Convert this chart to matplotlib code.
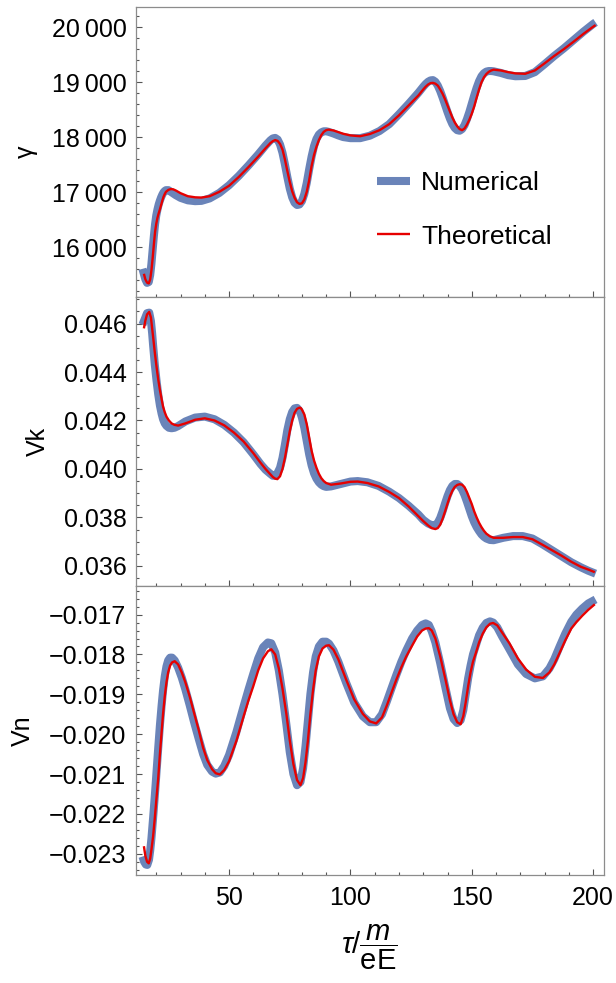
import numpy as np
import matplotlib
matplotlib.use("Agg")
import matplotlib.pyplot as plt
from matplotlib.ticker import MultipleLocator, FixedLocator, FixedFormatter

plt.rcParams['font.family'] = ['Liberation Sans', 'DejaVu Sans']
plt.rcParams['mathtext.fontset'] = 'custom'
plt.rcParams['mathtext.rm'] = 'Liberation Sans'
plt.rcParams['mathtext.it'] = 'Liberation Sans:italic'

# ---- data ----
# gamma (top panel)
t_gam_th = [14.9, 15.5, 16.2, 16.9, 17.5, 18, 18.5, 19, 19.5, 20, 20.5, 21, 21.5, 22, 22.5, 23, 23.5, 24, 25, 26,
            27, 28, 30, 33, 36, 38.6, 42, 46, 50, 54, 58, 62, 65, 67, 68, 69, 70, 71, 72, 73,
            74, 75, 76, 77, 78, 79, 80, 81, 82, 83, 84, 85, 86, 87, 88, 89, 90, 91, 93, 95,
            97, 100, 104, 108, 112, 116, 120, 124, 128, 130, 131, 132, 133, 134, 135, 136, 137, 138, 139, 140,
            141, 142, 143, 144, 145, 146, 147, 148, 149, 150, 151, 152, 153, 154, 155, 156, 157, 158, 159, 162,
            165, 168, 172, 176, 180, 184, 188, 192, 196, 200, 201]
gam_th = [15520, 15420, 15360, 15345, 15420, 15580, 15800, 16050, 16280, 16430, 16540, 16620, 16690, 16770, 16850, 16920, 16970, 17010, 17045, 17060,
          17055, 17035, 16985, 16930, 16910, 16905, 16930, 17010, 17120, 17280, 17460, 17650, 17800, 17895, 17930, 17950, 17935, 17880, 17780, 17600,
          17390, 17190, 17020, 16900, 16820, 16790, 16800, 16870, 17010, 17220, 17480, 17680, 17830, 17950, 18040, 18100, 18130, 18140, 18125, 18095,
          18065, 18035, 18020, 18060, 18130, 18240, 18400, 18580, 18760, 18870, 18920, 18960, 18985, 18990, 18975, 18940, 18870, 18790, 18690, 18580,
          18470, 18360, 18270, 18200, 18150, 18130, 18160, 18230, 18320, 18430, 18560, 18720, 18870, 19000, 19090, 19150, 19190, 19215, 19230, 19215,
          19185, 19162, 19155, 19215, 19345, 19480, 19605, 19740, 19880, 20010, 20040]
t_gam_num = [14.3, 15.5, 16.2, 16.9, 17.5, 18, 18.5, 19, 19.5, 20, 20.5, 21, 21.5, 22, 22.5, 23, 23.5, 24, 25, 26,
             27, 28, 30, 33, 36, 38.6, 42, 46, 50, 54, 58, 62, 65, 67, 68, 69, 70, 71, 72, 73,
             74, 75, 76, 77, 78, 79, 80, 81, 82, 83, 84, 85, 86, 87, 88, 89, 90, 91, 93, 95,
             97, 100, 104, 108, 112, 116, 120, 124, 128, 130, 131, 132, 133, 134, 135, 136, 137, 138, 139, 140,
             141, 142, 143, 144, 145, 146, 147, 148, 149, 150, 151, 152, 153, 154, 155, 156, 157, 158, 159, 162,
             165, 168, 172, 176, 180, 184, 188, 192, 196, 200, 201]
gam_num = [15610, 15420, 15355, 15370, 15500, 15700, 15950, 16200, 16420, 16580, 16690, 16780, 16850, 16910, 16960, 17000, 17025, 17040, 17040, 17010,
           16980, 16950, 16900, 16855, 16840, 16845, 16890, 16990, 17130, 17300, 17490, 17690, 17850, 17945, 17980, 17990, 17960, 17870, 17720, 17510,
           17280, 17070, 16910, 16810, 16770, 16780, 16840, 16970, 17170, 17420, 17650, 17840, 17970, 18050, 18090, 18110, 18110, 18100, 18070, 18035,
           18005, 17985, 17985, 18030, 18115, 18240, 18420, 18610, 18810, 18920, 18970, 19010, 19035, 19040, 19010, 18940, 18840, 18720, 18590, 18460,
           18340, 18240, 18170, 18130, 18120, 18150, 18220, 18330, 18460, 18610, 18760, 18900, 19020, 19110, 19165, 19195, 19205, 19205, 19200, 19170,
           19130, 19110, 19115, 19185, 19330, 19480, 19620, 19770, 19920, 20060, 20090]

# Vk (middle panel)
t_vk_th = [14.9, 15.5, 16.2, 17.1, 17.8, 18.3, 18.7, 19.4, 20.1, 20.8, 21.5, 22.2, 22.8, 23.5, 24.2, 25.2, 26.3, 27.5, 29, 32,
           36, 40, 44, 48, 52, 56, 60, 63, 65, 67, 68, 69, 69.9, 71, 72, 73, 74, 75, 76, 77,
           78, 79, 79.5, 80, 81, 82, 83, 84, 85, 86, 87, 88, 89, 90, 92, 96, 100, 103, 107, 111.6,
           116, 120, 124, 128, 130, 132, 133.5, 135, 136, 137, 138, 139, 140, 141, 142, 143, 144, 145, 146, 147,
           148, 149, 150, 151, 152, 153, 154, 155, 156, 157.5, 159, 163, 167, 171, 175, 179, 183, 187, 191, 195,
           198, 200.7]
vk_th = [0.04580, 0.04612, 0.04638, 0.04648, 0.04625, 0.04580, 0.04545, 0.04480, 0.04422, 0.04370, 0.04326, 0.04288, 0.04257, 0.04234, 0.04216, 0.04200, 0.04188, 0.04182, 0.04179, 0.04188,
         0.04203, 0.04209, 0.04200, 0.04180, 0.04150, 0.04113, 0.04065, 0.04025, 0.04000, 0.03978, 0.03967, 0.03960, 0.03958, 0.03970, 0.04000, 0.04045, 0.04100, 0.04155, 0.04200, 0.04232,
         0.04248, 0.04253, 0.04252, 0.04245, 0.04225, 0.04185, 0.04130, 0.04075, 0.04035, 0.04005, 0.03980, 0.03962, 0.03950, 0.03942, 0.03935, 0.03940, 0.03947, 0.03948, 0.03942, 0.03928,
         0.03905, 0.03880, 0.03845, 0.03805, 0.03785, 0.03767, 0.03756, 0.03752, 0.03756, 0.03770, 0.03795, 0.03825, 0.03857, 0.03887, 0.03910, 0.03926, 0.03934, 0.03937, 0.03935, 0.03925,
         0.03905, 0.03880, 0.03855, 0.03825, 0.03800, 0.03778, 0.03760, 0.03745, 0.03733, 0.03722, 0.03716, 0.03716, 0.03719, 0.03719, 0.03710, 0.03688, 0.03665, 0.03642, 0.03617, 0.03596,
         0.03585, 0.03574]
t_vk_num = [14.3, 15.5, 16.2, 17.1, 17.8, 18.3, 18.7, 19.4, 20.1, 20.8, 21.5, 22.2, 22.8, 23.5, 24.2, 25.2, 26.3, 27.5, 29, 32,
            36, 40, 44, 48, 52, 56, 60, 63, 65, 67, 68, 69, 69.9, 71, 72, 73, 74, 75, 76, 77,
            78, 79, 79.5, 80, 81, 82, 83, 84, 85, 86, 87, 88, 89, 90, 92, 96, 100, 103, 107, 111.6,
            116, 120, 124, 128, 130, 132, 133.5, 135, 136, 137, 138, 139, 140, 141, 142, 143, 144, 145, 146, 147,
            148, 149, 150, 151, 152, 153, 154, 155, 156, 157.5, 159, 163, 167, 171, 175, 179, 183, 187, 191, 195,
            198, 201]
vk_num = [0.04595, 0.04625, 0.04643, 0.04645, 0.04610, 0.04560, 0.04510, 0.04430, 0.04365, 0.04308, 0.04262, 0.04228, 0.04205, 0.04188, 0.04178, 0.04170, 0.04168, 0.04170, 0.04177, 0.04196,
          0.04212, 0.04216, 0.04205, 0.04182, 0.04150, 0.04110, 0.04060, 0.04020, 0.03997, 0.03980, 0.03972, 0.03972, 0.03982, 0.04005, 0.04045, 0.04100, 0.04160, 0.04205, 0.04235, 0.04250,
          0.04252, 0.04240, 0.04228, 0.04212, 0.04170, 0.04115, 0.04060, 0.04015, 0.03982, 0.03960, 0.03945, 0.03935, 0.03929, 0.03926, 0.03928, 0.03938, 0.03948, 0.03950, 0.03945, 0.03930,
          0.03906, 0.03880, 0.03848, 0.03812, 0.03790, 0.03775, 0.03768, 0.03768, 0.03778, 0.03798, 0.03826, 0.03858, 0.03888, 0.03913, 0.03930, 0.03938, 0.03938, 0.03930, 0.03915, 0.03893,
          0.03865, 0.03835, 0.03805, 0.03780, 0.03760, 0.03744, 0.03730, 0.03720, 0.03713, 0.03707, 0.03706, 0.03716, 0.03723, 0.03723, 0.03713, 0.03690, 0.03665, 0.03640, 0.03615, 0.03594,
          0.03580, 0.03568]

# Vn (bottom panel)
t_vn_th = [14.9, 15.5, 16.2, 16.9, 17.5, 18, 18.7, 19.4, 20.1, 20.8, 21.5, 22.2, 22.8, 23.5, 24.2, 24.9, 25.7, 26.5, 27.6, 29,
           30.5, 32, 33.8, 35.5, 37.5, 39.3, 41, 43, 44.5, 46.2, 48, 50, 53, 56, 58, 59.9, 62, 64, 66, 67.4,
           69, 70.5, 72, 73.6, 75, 76.5, 78, 79.4, 80.5, 81.5, 82.5, 83.5, 84.6, 85.7, 87, 88.5, 90, 91.2, 93, 95,
           98.3, 101.5, 105.1, 108, 110.6, 113, 115, 117.1, 119, 121, 123, 125.4, 127.5, 129.5, 131, 132.3, 133.5, 135, 137, 139.2,
           141, 142.5, 144, 145.4, 146.5, 147.5, 148.5, 149.5, 150.5, 151.7, 153, 154.5, 156, 157.5, 158.8, 160.5, 162.5, 165.5, 169, 172.4,
           176, 179.3, 182, 184, 186.2, 188.5, 191, 193.1, 195.5, 198, 200.7]
vn_th = [-0.02281, -0.02305, -0.02320, -0.02324, -0.02312, -0.02290, -0.02256, -0.02210, -0.02160, -0.02111, -0.02050, -0.01995, -0.01949, -0.01905, -0.01870, -0.01845, -0.01828, -0.01820, -0.01817, -0.01825,
         -0.01845, -0.01870, -0.01906, -0.01945, -0.01990, -0.02034, -0.02065, -0.02088, -0.02098, -0.02101, -0.02090, -0.02068, -0.02017, -0.01955, -0.01915, -0.01881, -0.01840, -0.01810, -0.01792, -0.01787,
         -0.01800, -0.01835, -0.01885, -0.01949, -0.02015, -0.02075, -0.02115, -0.02128, -0.02110, -0.02070, -0.02015, -0.01950, -0.01889, -0.01840, -0.01805, -0.01785, -0.01778, -0.01777, -0.01788, -0.01812,
         -0.01864, -0.01912, -0.01949, -0.01968, -0.01973, -0.01958, -0.01928, -0.01893, -0.01862, -0.01832, -0.01805, -0.01778, -0.01755, -0.01740, -0.01735, -0.01734, -0.01740, -0.01760, -0.01805, -0.01864,
         -0.01915, -0.01950, -0.01970, -0.01975, -0.01955, -0.01920, -0.01880, -0.01845, -0.01818, -0.01796, -0.01770, -0.01748, -0.01732, -0.01723, -0.01721, -0.01727, -0.01745, -0.01772, -0.01810, -0.01838,
         -0.01856, -0.01859, -0.01845, -0.01825, -0.01796, -0.01765, -0.01735, -0.01719, -0.01703, -0.01688, -0.01674]
t_vn_num = [14.3, 15.0, 15.7, 16.3, 17.0, 17.5, 18, 18.7, 19.4, 20.1, 20.8, 21.5, 22.2, 22.8, 23.5, 24.2, 24.9, 25.7, 26.5, 27.6, 29,
            30.5, 32, 33.8, 35.5, 37.5, 39.3, 41, 43, 44.5, 46.2, 48, 50, 53, 56, 58, 59.9, 62, 64, 66, 67.4,
            69, 70.5, 72, 73.6, 75, 76.5, 78, 79.4, 80.5, 81.5, 82.5, 83.5, 84.6, 85.7, 87, 88.5, 90, 91.2, 93, 95,
            98.3, 101.5, 105.1, 108, 110.6, 113, 115, 117.1, 119, 121, 123, 125.4, 127.5, 129.5, 131, 132.3, 133.5, 135, 137, 139.2,
            141, 142.5, 144, 145.4, 146.5, 147.5, 148.5, 149.5, 150.5, 151.7, 153, 154.5, 156, 157.5, 158.8, 160.5, 162.5, 165.5, 169, 172.4,
            176, 179.3, 182, 184, 186.2, 188.5, 191, 193.1, 195.5, 198, 201]
vn_num = [-0.02307, -0.02320, -0.02327, -0.02328, -0.02315, -0.02292, -0.02262, -0.02210, -0.02155, -0.02095, -0.02035, -0.01978, -0.01928, -0.01890, -0.01855, -0.01830, -0.01815, -0.01808, -0.01808, -0.01815, -0.01833,
          -0.01858, -0.01888, -0.01928, -0.01968, -0.02012, -0.02050, -0.02077, -0.02094, -0.02099, -0.02096, -0.02080, -0.02052, -0.01995, -0.01930, -0.01888, -0.01850, -0.01810, -0.01782, -0.01770, -0.01772,
          -0.01795, -0.01840, -0.01900, -0.01975, -0.02045, -0.02100, -0.02128, -0.02120, -0.02085, -0.02030, -0.01965, -0.01900, -0.01845, -0.01805, -0.01780, -0.01768, -0.01768, -0.01773, -0.01790, -0.01818,
          -0.01872, -0.01920, -0.01955, -0.01970, -0.01970, -0.01950, -0.01918, -0.01882, -0.01850, -0.01818, -0.01790, -0.01760, -0.01740, -0.01726, -0.01722, -0.01726, -0.01742, -0.01770, -0.01822, -0.01885,
          -0.01935, -0.01962, -0.01972, -0.01965, -0.01940, -0.01900, -0.01860, -0.01828, -0.01800, -0.01777, -0.01752, -0.01733, -0.01721, -0.01717, -0.01720, -0.01732, -0.01755, -0.01787, -0.01825, -0.01849,
          -0.01860, -0.01855, -0.01835, -0.01812, -0.01780, -0.01748, -0.01718, -0.01700, -0.01685, -0.01672, -0.01662]

# tick labels
gam_ticks = [16000, 17000, 18000, 19000, 20000]
gam_labels = ['16\u2009000', '17\u2009000', '18\u2009000', '19\u2009000', '20\u2009000']
vk_ticks = [0.036, 0.038, 0.040, 0.042, 0.044, 0.046]
vk_labels = ['0.036', '0.038', '0.040', '0.042', '0.044', '0.046']
vn_ticks = [-0.023, -0.022, -0.021, -0.020, -0.019, -0.018, -0.017]
vn_labels = ['\u22120.023', '\u22120.022', '\u22120.021', '\u22120.020', '\u22120.019', '\u22120.018', '\u22120.017']
x_ticks = [50, 100, 150, 200]
x_labels = ['50', '100', '150', '200']

blue = '#6a84b9'
red = '#e60000'
frame_col = '#8c8c8c'

fig = plt.figure(figsize=(6.16, 9.83), dpi=100)
left, width = 0.220, 0.7606
h = 0.2942
bottoms = [0.1099 + 2 * h, 0.1099 + h, 0.1099]
axes = [fig.add_axes([left, b, width, h]) for b in bottoms]

panels = [
    (t_gam_num, gam_num, t_gam_th, gam_th, gam_ticks, gam_labels, 200, (15106, 20362), '\u03b3'),
    (t_vk_num, vk_num, t_vk_th, vk_th, vk_ticks, vk_labels, 0.0005, (0.03518, 0.047113), 'Vk'),
    (t_vn_num, vn_num, t_vn_th, vn_th, vn_ticks, vn_labels, 0.0002, (-0.023532, -0.016277), 'Vn'),
]

for ax, (tn, yn, tt, yt, yt_ticks, yt_labels, ymin_step, ylim, lab) in zip(axes, panels):
    ax.plot(tn, yn, color=blue, lw=5.8, solid_capstyle='butt', solid_joinstyle='round', label='Numerical')
    ax.plot(tt, yt, color=red, lw=1.7, solid_capstyle='butt', solid_joinstyle='round', label='Theoretical')
    ax.set_xlim(11.45, 204.5)
    ax.set_ylim(*ylim)
    ax.yaxis.set_major_locator(FixedLocator(yt_ticks))
    ax.yaxis.set_major_formatter(FixedFormatter(yt_labels))
    ax.yaxis.set_minor_locator(MultipleLocator(ymin_step))
    ax.xaxis.set_major_locator(FixedLocator(x_ticks))
    ax.xaxis.set_minor_locator(MultipleLocator(10))
    ax.tick_params(which='both', direction='in', top=False, right=False, color='#555555', width=0.8,
                   labelsize=18, pad=6.5)
    ax.tick_params(which='major', length=4.3)
    ax.tick_params(which='minor', length=2.3)
    for s in ax.spines.values():
        s.set_color(frame_col)
        s.set_linewidth(0.9)
    ax.set_ylabel(lab, fontsize=18, labelpad=10)

for ax in axes[:2]:
    ax.tick_params(axis='x', labelbottom=False)

axes[2].xaxis.set_major_formatter(FixedFormatter(x_labels))
axes[2].tick_params(axis='x', pad=8)
axes[2].set_xlabel(r'$\tau/\dfrac{m}{\mathrm{eE}}$', fontsize=21, labelpad=9)

axes[0].legend(loc='center left', bbox_to_anchor=(0.515, 0.30), frameon=False, fontsize=19,
               handlelength=1.25, handletextpad=0.42, labelspacing=1.12, borderpad=0, borderaxespad=0)

fig.savefig('out.png', dpi=100)
